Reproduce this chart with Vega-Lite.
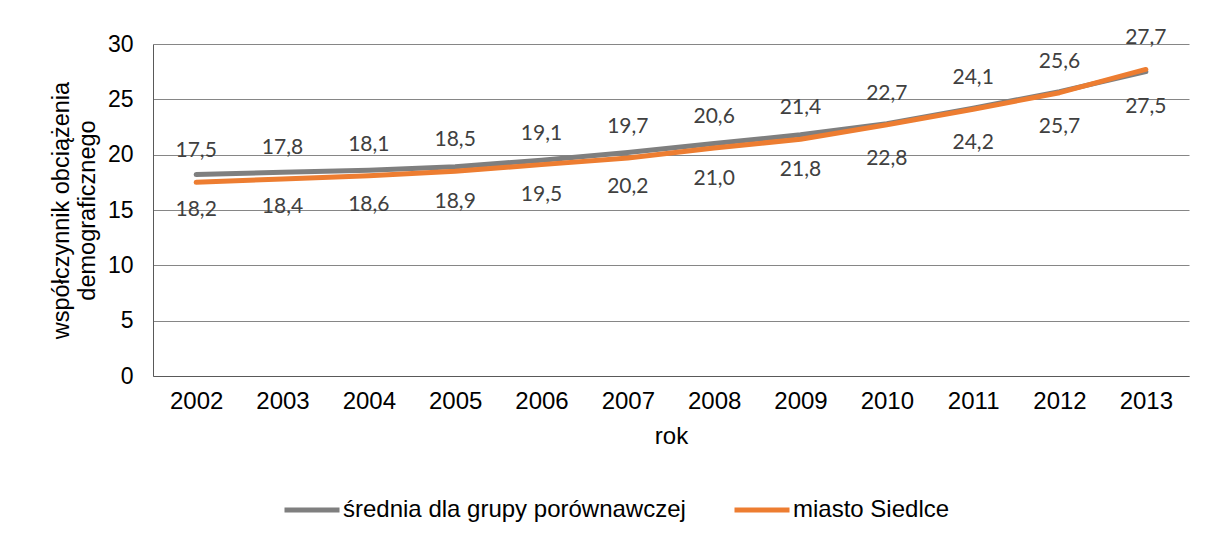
{
  "$schema": "https://vega.github.io/schema/vega-lite/v6.json",
  "width": 1036,
  "height": 332,
  "autosize": {"type": "none"},
  "padding": {"left": 153, "top": 44, "right": 16, "bottom": 160},
  "background": "white",
  "config": {
    "view": {"stroke": null},
    "font": "Liberation Sans",
    "axis": {"labelFont": "Liberation Sans", "titleFont": "Liberation Sans", "labelColor": "#000000", "titleColor": "#000000", "titleFontWeight": "normal"},
    "legend": {"labelFont": "Liberation Sans", "labelFontSize": 24, "labelColor": "#000000", "labelLimit": 0}
  },
  "data": {
    "values": [
      {"rok": "2002", "seria": "średnia dla grupy porównawczej", "v": 18.2, "t": "18,2"},
      {"rok": "2003", "seria": "średnia dla grupy porównawczej", "v": 18.4, "t": "18,4"},
      {"rok": "2004", "seria": "średnia dla grupy porównawczej", "v": 18.6, "t": "18,6"},
      {"rok": "2005", "seria": "średnia dla grupy porównawczej", "v": 18.9, "t": "18,9"},
      {"rok": "2006", "seria": "średnia dla grupy porównawczej", "v": 19.5, "t": "19,5"},
      {"rok": "2007", "seria": "średnia dla grupy porównawczej", "v": 20.2, "t": "20,2"},
      {"rok": "2008", "seria": "średnia dla grupy porównawczej", "v": 21.0, "t": "21,0"},
      {"rok": "2009", "seria": "średnia dla grupy porównawczej", "v": 21.8, "t": "21,8"},
      {"rok": "2010", "seria": "średnia dla grupy porównawczej", "v": 22.8, "t": "22,8"},
      {"rok": "2011", "seria": "średnia dla grupy porównawczej", "v": 24.2, "t": "24,2"},
      {"rok": "2012", "seria": "średnia dla grupy porównawczej", "v": 25.7, "t": "25,7"},
      {"rok": "2013", "seria": "średnia dla grupy porównawczej", "v": 27.5, "t": "27,5"},
      {"rok": "2002", "seria": "miasto Siedlce", "v": 17.5, "t": "17,5"},
      {"rok": "2003", "seria": "miasto Siedlce", "v": 17.8, "t": "17,8"},
      {"rok": "2004", "seria": "miasto Siedlce", "v": 18.1, "t": "18,1"},
      {"rok": "2005", "seria": "miasto Siedlce", "v": 18.5, "t": "18,5"},
      {"rok": "2006", "seria": "miasto Siedlce", "v": 19.1, "t": "19,1"},
      {"rok": "2007", "seria": "miasto Siedlce", "v": 19.7, "t": "19,7"},
      {"rok": "2008", "seria": "miasto Siedlce", "v": 20.6, "t": "20,6"},
      {"rok": "2009", "seria": "miasto Siedlce", "v": 21.4, "t": "21,4"},
      {"rok": "2010", "seria": "miasto Siedlce", "v": 22.7, "t": "22,7"},
      {"rok": "2011", "seria": "miasto Siedlce", "v": 24.1, "t": "24,1"},
      {"rok": "2012", "seria": "miasto Siedlce", "v": 25.6, "t": "25,6"},
      {"rok": "2013", "seria": "miasto Siedlce", "v": 27.7, "t": "27,7"}
    ]
  },
  "encoding": {
    "x": {"field": "rok", "type": "ordinal", "scale": {"paddingInner": 0, "paddingOuter": 0},
      "axis": {"title": "rok", "labelAngle": 0, "ticks": false, "domainColor": "#595959", "labelFontSize": 24, "titleFontSize": 24, "labelPadding": 13, "titlePadding": 11, "grid": false}},
    "y": {"field": "v", "type": "quantitative", "scale": {"domain": [0, 30]},
      "axis": {"title": ["współczynnik obciążenia", "demograficznego"], "values": [0, 5, 10, 15, 20, 25, 30], "ticks": false, "domainColor": "#595959", "gridColor": "#868686", "labelFontSize": 23, "titleFontSize": 23.5, "labelPadding": 20, "titlePadding": 8}}
  },
  "layer": [
    {
      "transform": [{"filter": "datum.seria === 'średnia dla grupy porównawczej'"}],
      "mark": {"type": "line", "strokeWidth": 5, "strokeCap": "round", "strokeJoin": "round"},
      "encoding": {
        "color": {"field": "seria", "type": "nominal",
          "scale": {"domain": ["średnia dla grupy porównawczej", "miasto Siedlce"], "range": ["#7f7f7f", "#ed7d31"]},
          "legend": {"title": null, "orient": "none", "direction": "horizontal", "legendX": 129, "legendY": 436, "symbolType": "stroke", "symbolSize": 3025, "symbolStrokeWidth": 5, "labelOffset": 1, "columnPadding": 38}}
      }
    },
    {
      "transform": [{"filter": "datum.seria === 'miasto Siedlce'"}],
      "mark": {"type": "line", "strokeWidth": 5, "strokeCap": "round", "strokeJoin": "round"},
      "encoding": {"color": {"field": "seria", "type": "nominal"}}
    },
    {
      "transform": [{"filter": "datum.seria === 'średnia dla grupy porównawczej'"}],
      "mark": {"type": "text", "dy": 35, "font": "Lato", "fontSize": 21, "color": "#404040"},
      "encoding": {"text": {"field": "t"}}
    },
    {
      "transform": [{"filter": "datum.seria === 'miasto Siedlce'"}],
      "mark": {"type": "text", "dy": -31, "font": "Lato", "fontSize": 21, "color": "#404040"},
      "encoding": {"text": {"field": "t"}}
    }
  ]
}
